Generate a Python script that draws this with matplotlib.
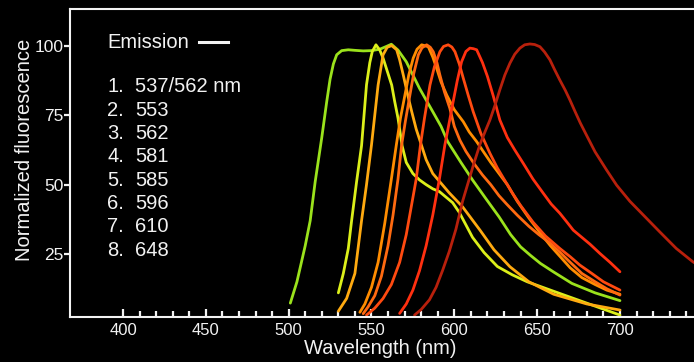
"""
Normalized emission spectra of the mFruit series, white on black
"""
import matplotlib.pyplot as plt
from matplotlib.lines import Line2D
from matplotlib.ticker import FixedLocator

plt.rcParams['font.family'] = ['Liberation Sans', 'DejaVu Sans']

# 1. 537/562 nm
wl_1 = [501, 505, 510, 513, 516, 520, 523, 525, 527, 529, 532, 536, 540, 545, 550, 555,
        559, 562, 566, 571, 575, 579, 583, 587, 592, 596, 604, 611, 619, 627, 634, 640,
        646, 652, 660, 671, 685, 700]
em_1 = [7.3, 15, 28, 37, 51, 67, 80, 88, 93.5, 96.8, 98.3, 98.6, 98.4, 98.2, 98.3, 98.8,
        99.8, 100.6, 98.5, 94.3, 89.5, 84.7, 80.5, 76.3, 71, 65.5, 58, 51.7, 45, 38.4, 32,
        27.6, 24.5, 21.6, 18.5, 14.4, 11, 8.2]
# 2. 553
wl_2 = [530, 533, 536, 538, 541, 544, 547, 549, 550.5, 552.7, 555, 557, 560, 562.2, 564,
        566, 568.5, 571, 575, 579, 583, 587, 591, 595, 599, 603, 607, 611, 618, 626, 635,
        644, 658, 672, 686, 700]
em_2 = [11, 18, 27, 37, 51, 64, 86, 94, 98, 100.4, 98.5, 95.6, 90, 85.9, 80, 74, 64, 58,
        54, 51.7, 50, 48.5, 47.5, 45.5, 43.5, 40, 35.5, 31, 25.5, 20.5, 17.5, 15, 12, 9, 6, 3]
# 3. 562
wl_3 = [530, 535, 540, 544, 547, 550, 554, 557, 559.5, 562.2, 565.2, 567, 569.2, 572,
        574.3, 577, 579.2, 583, 587, 592, 597, 601, 605, 610, 615.5, 624, 633.6, 645, 660,
        680, 700]
em_3 = [4.4, 9, 18, 37, 50, 64.3, 85.9, 96.8, 99.5, 100.1, 98.6, 95, 89.5, 82, 76.3, 70,
        66, 59, 54, 50.5, 47, 44.5, 42, 38, 33.6, 26.5, 20.4, 15, 10.5, 7, 4.8]
# 4. 581
wl_4 = [543, 546, 550, 554, 558, 562, 565, 567.5, 570.2, 572.5, 575.2, 577.5, 580.3, 584.3,
        587, 589.3, 592, 595.4, 600, 605.4, 609, 613.5, 618, 622, 627, 632, 638, 645, 652,
        658, 664, 670, 677, 685, 692, 700]
em_4 = [4, 7, 13, 22, 36, 52, 64.3, 74, 82.3, 89.5, 95.6, 98.8, 100.4, 99.7, 96, 92, 87,
        82.3, 77, 72.7, 69, 65.5, 61.5, 58, 54, 50, 44, 38, 32.5, 28, 24, 20, 16.5, 14, 12,
        10.5]
# 5. 585
wl_5 = [545, 548, 552, 556, 560, 563, 566, 568.2, 570.5, 573.2, 575.5, 578.3, 580.5, 583.3,
        585.5, 587.3, 589.5, 591.3, 594, 597.3, 600, 603.4, 607, 612, 617, 622, 627, 631.6,
        638, 645, 651, 657.7, 664, 670, 677, 685, 692, 700]
em_5 = [3.5, 6, 10, 17, 28, 39, 52, 64.3, 73, 82.3, 90, 96.8, 99.3, 100.4, 99.5, 97.9, 94,
        89.5, 83.5, 77.5, 71, 66, 62, 57.5, 53.5, 50, 46, 43, 39, 35, 32, 29, 25.5, 22, 18,
        15, 12.5, 10.2]
# 6. 596
wl_6 = [547, 552, 557, 562, 567, 571, 574, 577, 579.5, 582, 585.3, 588, 591.3, 593.5, 596.3,
        598.5, 600.4, 603, 605.4, 608.5, 611.4, 616, 621.5, 626, 630, 635, 640, 647.5, 655,
        663.7, 670, 675.8, 683, 690, 700]
em_6 = [3, 5.5, 9, 14, 22, 32, 42, 52, 64, 74, 85.9, 92.5, 97.9, 99.8, 100.4, 99.6, 97.9,
        93.5, 88.4, 82, 76.3, 68.5, 61.3, 56, 52, 47, 42.5, 36.5, 31.5, 27, 24, 21, 18, 15, 12]
# 7. 610
wl_7 = [567, 571, 575, 579, 583, 587, 591, 594.3, 596.8, 599.3, 601.8, 604.4, 607, 609.4,
        611.5, 613.5, 617, 620, 623.5, 627.5, 632, 636.5, 641.6, 647.5, 653.7, 658.5, 663.7,
        668, 671.8, 676, 682, 687.9, 694, 700]
em_7 = [3.6, 7, 12, 19, 28, 39, 52, 64.3, 72, 79.9, 87.5, 94.3, 98, 99.2, 99, 98.6, 94, 89,
        82, 73.3, 67, 62.5, 57.7, 52, 46.9, 43, 39.7, 36.5, 33.6, 31.5, 28.5, 25.2, 22, 18.6]
# 8. 648
wl_8 = [576, 580, 585, 589, 593, 597, 601, 605, 608.5, 612, 615.5, 618.5, 621.5, 624.5,
        627.5, 630.5, 633.6, 636.5, 639.6, 642.5, 645.6, 648.5, 651.7, 654.5, 657.7, 660.5,
        663.7, 667, 669.8, 673, 676, 680, 685, 691.9, 698, 706, 715, 724, 734, 744, 750]
em_8 = [3, 5, 8.5, 13, 19.2, 26, 34, 44, 51, 58, 64.5, 69, 73.3, 78.5, 84.2, 89.5, 93.8, 97,
        99.2, 100.4, 100.7, 100.5, 99.7, 97.8, 95, 91.5, 87.7, 84, 80.5, 76.2, 72.3, 67.6,
        61.8, 55.3, 49.8, 44, 38.5, 33, 27, 22.2, 20]

spectra = [(wl_1, em_1), (wl_2, em_2), (wl_3, em_3), (wl_4, em_4),
           (wl_5, em_5), (wl_6, em_6), (wl_7, em_7), (wl_8, em_8)]
colors = ['#9be21c', '#dcef1a', '#ffaa10', '#ff8c00',
          '#ff6a10', '#ff4a10', '#ff3010', '#b8200c']
peak_labels = ['537/562 nm', '553', '562', '581', '585', '596', '610', '648']

fg = '#f2f2f2'

fig = plt.figure(figsize=(6.94, 3.62), dpi=100, facecolor='black')
ax = fig.add_axes((70 / 694, 45 / 362, 624 / 694, 308 / 362), facecolor='black')

for (wl, em), c in zip(spectra, colors):
    ax.plot(wl, em, color=c, lw=2, solid_capstyle='round', solid_joinstyle='round')

ax.set_xlim(368, 744.7)
ax.set_ylim(2.3, 113.3)

ax.spines['right'].set_visible(False)
for side in ['left', 'bottom', 'top']:
    ax.spines[side].set_color(fg)
    ax.spines[side].set_linewidth(1.5)

ax.set_xticks([400, 450, 500, 550, 600, 650, 700])
ax.xaxis.set_minor_locator(FixedLocator(list(range(400, 750, 10))))
ax.set_yticks([25, 50, 75, 100])
ax.tick_params(axis='x', which='major', direction='in', length=6, width=1.6,
               colors=fg, labelsize=12, pad=4)
ax.tick_params(axis='x', which='minor', direction='in', length=4, width=1.6, colors=fg)
ax.tick_params(axis='y', which='major', direction='out', length=4, width=1.6,
               colors=fg, labelsize=12.5, pad=0.5)

fig.text(25 / 694, 1 - 150 / 362, 'Normalized fluorescence', rotation=90,
         ha='center', va='center', color=fg, fontsize=14.5)
fig.text(380 / 694, 1 - 349 / 362, 'Wavelength (nm)', ha='center', va='center',
         color=fg, fontsize=14.5)

# legend block
fig.text(107 / 694, 1 - 42 / 362, 'Emission', ha='left', va='center',
         color=fg, fontsize=14.5)
fig.add_artist(Line2D([199 / 694, 228 / 694], [1 - 42 / 362] * 2, color=fg, lw=2.2))
for i, lab in enumerate(peak_labels):
    y = 1 - (87 + i * 23.3) / 362
    fig.text(107 / 694, y, f'{i + 1}.', ha='left', va='center', color=fg, fontsize=14.5)
    fig.text(135 / 694, y, lab, ha='left', va='center', color=fg, fontsize=14.5)

fig.savefig('out.png', dpi=100, facecolor='black')
